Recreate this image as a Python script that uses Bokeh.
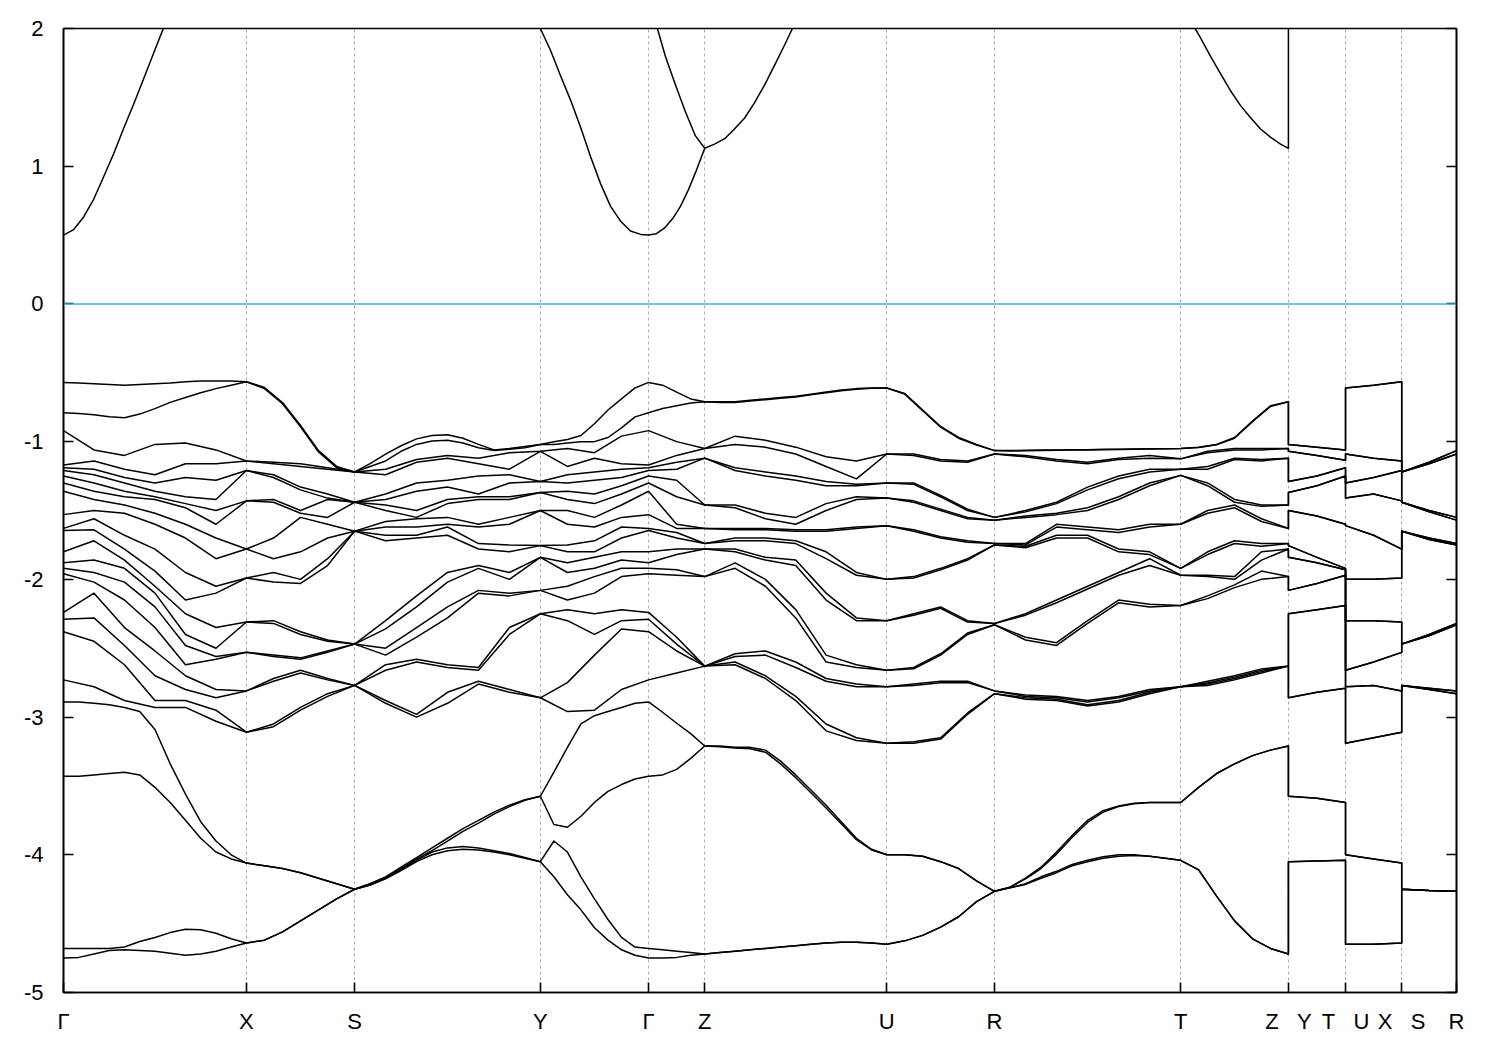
import numpy as np
from bokeh.plotting import figure
from bokeh.models import Range1d, LinearAxis, FixedTicker, Span
from bokeh.embed import file_html
from bokeh.resources import INLINE

# ---------------- data ----------------
# k-path: high-symmetry points (cumulative k distance) and their labels
k_nodes = [0.000, 0.394, 0.627, 1.027, 1.260, 1.381, 1.773, 2.005, 2.406, 2.638, 2.761, 2.882, 3.000]
k_names = ["Γ", "X", "S", "Y", "Γ", "Z", "U", "R", "T", "Z|Y", "T|U", "X|S", "R"]
y_ticks = [-5, -4, -3, -2, -1, 0, 1, 2]
y_tick_labels = ["-5", "-4", "-3", "-2", "-1", "0", "1", "2"]
fermi_level = 0.0

# ---- two highest valence bands (eV), finely sampled
T_G = [-0.57, -0.79]
T_X = [-0.565, -0.565]
T_S = [-1.22, -1.22]
T_Y = [-1.02, -1.02]
T_Z = [-0.71, -0.71]
T_U = [-0.61, -0.61]
T_R = [-1.065, -1.065]
T_T = [-1.05, -1.05]
T_T_yt = [-1.06, -1.06]
GX_top = [[-0.575, -0.795], [-0.58, -0.805], [-0.585, -0.82], [-0.59, -0.827], [-0.585, -0.80],
          [-0.58, -0.76], [-0.575, -0.715], [-0.565, -0.68], [-0.56, -0.645], [-0.56, -0.615], [-0.56, -0.59]]
XS_top = [[-0.607, -0.615], [-0.716, -0.725], [-0.883, -0.893], [-1.065, -1.075], [-1.18, -1.19]]
SY_top = [[-1.16, -1.18], [-1.09, -1.14], [-1.03, -1.07], [-0.98, -1.02], [-0.955, -0.995], [-0.95, -0.99],
          [-0.975, -1.01], [-1.02, -1.045], [-1.06, -1.065], [-1.05, -1.055], [-1.035, -1.045]]
YG_top = [[-1.00, -1.02], [-0.985, -1.01], [-0.955, -1.00], [-0.87, -1.00], [-0.77, -0.97],
          [-0.69, -0.90], [-0.61, -0.82]]
GZ_top = [[-0.59, -0.76], [-0.64, -0.74], [-0.69, -0.72]]
ZU_top = [[-0.71, -0.715], [-0.71, -0.715], [-0.70, -0.705], [-0.69, -0.695], [-0.68, -0.685], [-0.67, -0.675],
          [-0.655, -0.66], [-0.64, -0.645], [-0.625, -0.63], [-0.615, -0.62], [-0.61, -0.612]]
UR_top = [[-0.65, -0.655], [-0.77, -0.775], [-0.89, -0.895], [-0.97, -0.975], [-1.02, -1.025]]
RT_top = [[-1.065, -1.068], [-1.063, -1.066], [-1.06, -1.064], [-1.06, -1.063], [-1.058, -1.061], [-1.058, -1.06],
          [-1.056, -1.058], [-1.055, -1.057], [-1.053, -1.055], [-1.052, -1.054], [-1.051, -1.052]]
TZ_top = [[-1.04, -1.043], [-1.02, -1.023], [-0.97, -0.975], [-0.85, -0.855], [-0.74, -0.745]]
YT_top = [[-1.04, -1.04]]
UX_top = [[-0.59, -0.59]]
SR_top = [[-1.15, -1.15]]

# ---- middle valence bands (18 bands) at high-symmetry points (eV)
M_G = [-0.92, -1.17, -1.19, -1.21, -1.25, -1.30, -1.36, -1.53, -1.63, -1.645, -1.80, -1.88, -1.92, -1.96, -2.24, -2.29, -2.38, -2.73]
M_X = [-1.14, -1.14, -1.21, -1.21, -1.43, -1.43, -1.78, -1.78, -1.99, -1.99, -2.31, -2.31, -2.53, -2.53, -2.81, -2.81, -3.11, -3.11]
M_S = [-1.22, -1.22, -1.44, -1.44, -1.44, -1.44, -1.65, -1.65, -1.65, -1.65, -2.47, -2.47, -2.47, -2.47, -2.77, -2.77, -2.77, -2.77]
M_Y = [-1.07, -1.07, -1.29, -1.29, -1.37, -1.37, -1.50, -1.50, -1.755, -1.755, -1.84, -1.84, -2.08, -2.08, -2.25, -2.25, -2.86, -2.86]
M_Z = [-1.05, -1.05, -1.12, -1.12, -1.46, -1.46, -1.63, -1.63, -1.74, -1.74, -1.78, -1.78, -1.98, -1.98, -2.63, -2.63, -2.63, -2.63]
M_U = [-1.09, -1.09, -1.30, -1.30, -1.41, -1.41, -1.61, -1.61, -2.00, -2.00, -2.30, -2.30, -2.66, -2.66, -2.78, -2.78, -3.19, -3.19]
M_R = [-1.09, -1.09, -1.55, -1.55, -1.57, -1.57, -1.74, -1.74, -1.75, -1.75, -2.32, -2.32, -2.33, -2.33, -2.81, -2.81, -2.83, -2.83]
M_T = [-1.125, -1.125, -1.20, -1.20, -1.245, -1.245, -1.60, -1.60, -1.92, -1.92, -1.97, -1.97, -2.19, -2.19, -2.78, -2.78, -2.78, -2.78]
M_T_yt = [-1.135, -1.135, -1.19, -1.19, -1.25, -1.25, -1.60, -1.60, -1.92, -1.92, -1.93, -1.93, -1.97, -1.97, -2.19, -2.19, -2.79, -2.79]

GX_mid = [
    [-1.06, -1.14, -1.20, -1.24, -1.30, -1.36, -1.42, -1.50, -1.56, -1.64, -1.72, -1.86, -1.95, -2.02, -2.10, -2.28, -2.45, -2.78],
    [-1.10, -1.20, -1.26, -1.30, -1.36, -1.40, -1.46, -1.52, -1.68, -1.78, -1.86, -1.92, -2.02, -2.15, -2.35, -2.48, -2.62, -2.88],
    [-1.02, -1.24, -1.30, -1.36, -1.40, -1.42, -1.52, -1.60, -1.78, -1.94, -2.05, -2.10, -2.20, -2.35, -2.52, -2.70, -2.88, -2.93],
    [-1.01, -1.16, -1.26, -1.40, -1.45, -1.48, -1.60, -1.70, -1.95, -2.15, -2.25, -2.40, -2.48, -2.62, -2.70, -2.80, -2.88, -2.93],
    [-1.06, -1.16, -1.28, -1.42, -1.50, -1.60, -1.70, -1.85, -2.05, -2.10, -2.35, -2.50, -2.56, -2.58, -2.80, -2.86, -2.95, -3.03],
]
XS_mid = [
    [-1.15, -1.16, -1.24, -1.26, -1.42, -1.44, -1.70, -1.85, -1.95, -2.02, -2.30, -2.32, -2.55, -2.56, -2.72, -2.74, -3.05, -3.07],
    [-1.16, -1.18, -1.33, -1.35, -1.50, -1.52, -1.55, -1.80, -2.00, -2.03, -2.38, -2.40, -2.57, -2.58, -2.66, -2.68, -2.93, -2.95],
    [-1.19, -1.20, -1.38, -1.41, -1.42, -1.55, -1.60, -1.70, -1.85, -1.90, -2.44, -2.45, -2.52, -2.53, -2.72, -2.73, -2.83, -2.85],
]
SY_mid = [
    [-1.20, -1.24, -1.38, -1.42, -1.46, -1.50, -1.58, -1.62, -1.68, -1.72, -2.30, -2.36, -2.50, -2.55, -2.62, -2.66, -2.88, -2.90],
    [-1.13, -1.15, -1.30, -1.36, -1.50, -1.55, -1.56, -1.62, -1.68, -1.70, -2.12, -2.20, -2.35, -2.42, -2.58, -2.60, -2.98, -3.00],
    [-1.10, -1.12, -1.28, -1.33, -1.42, -1.45, -1.55, -1.60, -1.62, -1.68, -1.95, -2.02, -2.20, -2.28, -2.62, -2.64, -2.82, -2.90],
    [-1.12, -1.16, -1.25, -1.38, -1.40, -1.42, -1.60, -1.62, -1.74, -1.78, -1.90, -1.92, -2.08, -2.10, -2.64, -2.66, -2.74, -2.76],
    [-1.08, -1.20, -1.24, -1.30, -1.40, -1.42, -1.55, -1.60, -1.75, -1.80, -1.95, -2.00, -2.10, -2.12, -2.35, -2.40, -2.80, -2.82],
]
YG_mid = [
    [-1.05, -1.18, -1.24, -1.30, -1.36, -1.42, -1.50, -1.60, -1.75, -1.80, -1.88, -1.95, -2.05, -2.15, -2.22, -2.30, -2.75, -2.96],
    [-1.08, -1.12, -1.22, -1.28, -1.38, -1.45, -1.55, -1.62, -1.72, -1.80, -1.84, -1.92, -1.98, -2.10, -2.25, -2.40, -2.55, -2.95],
    [-0.96, -1.16, -1.20, -1.26, -1.32, -1.38, -1.46, -1.55, -1.62, -1.70, -1.80, -1.86, -1.92, -1.98, -2.22, -2.30, -2.36, -2.80],
]
GZ_mid = [
    [-1.00, -1.10, -1.15, -1.20, -1.28, -1.40, -1.60, -1.63, -1.66, -1.70, -1.78, -1.82, -1.93, -1.97, -2.42, -2.47, -2.52, -2.68],
]
ZU_mid = [
    [-0.96, -1.02, -1.19, -1.21, -1.46, -1.48, -1.63, -1.64, -1.70, -1.72, -1.78, -1.80, -1.88, -1.92, -2.54, -2.56, -2.60, -2.62],
    [-0.99, -1.04, -1.22, -1.25, -1.52, -1.56, -1.63, -1.64, -1.70, -1.72, -1.84, -1.86, -2.00, -2.05, -2.52, -2.55, -2.70, -2.72],
    [-1.04, -1.09, -1.25, -1.28, -1.55, -1.60, -1.64, -1.65, -1.72, -1.74, -1.86, -1.90, -2.22, -2.28, -2.60, -2.64, -2.85, -2.88],
    [-1.11, -1.18, -1.29, -1.32, -1.45, -1.50, -1.64, -1.65, -1.80, -1.85, -2.10, -2.15, -2.55, -2.60, -2.72, -2.74, -3.05, -3.10],
    [-1.14, -1.27, -1.31, -1.32, -1.40, -1.42, -1.62, -1.63, -1.95, -1.97, -2.28, -2.30, -2.62, -2.64, -2.76, -2.78, -3.15, -3.17],
]
UR_mid = [
    [-1.09, -1.10, -1.30, -1.31, -1.43, -1.44, -1.64, -1.65, -1.98, -1.99, -2.25, -2.26, -2.64, -2.65, -2.76, -2.77, -3.18, -3.19],
    [-1.13, -1.14, -1.39, -1.40, -1.49, -1.50, -1.69, -1.70, -1.92, -1.93, -2.20, -2.21, -2.54, -2.55, -2.74, -2.75, -3.15, -3.16],
    [-1.14, -1.15, -1.49, -1.50, -1.55, -1.56, -1.72, -1.73, -1.85, -1.86, -2.30, -2.31, -2.39, -2.40, -2.74, -2.75, -2.97, -2.98],
]
RT_mid = [
    [-1.10, -1.11, -1.50, -1.51, -1.54, -1.55, -1.74, -1.75, -1.76, -1.77, -2.25, -2.26, -2.42, -2.44, -2.84, -2.85, -2.86, -2.87],
    [-1.13, -1.14, -1.44, -1.45, -1.52, -1.53, -1.60, -1.62, -1.68, -1.70, -2.15, -2.17, -2.46, -2.48, -2.85, -2.86, -2.87, -2.88],
    [-1.15, -1.16, -1.33, -1.35, -1.48, -1.50, -1.62, -1.64, -1.68, -1.70, -2.05, -2.07, -2.30, -2.32, -2.88, -2.89, -2.91, -2.92],
    [-1.12, -1.13, -1.25, -1.27, -1.40, -1.42, -1.64, -1.66, -1.78, -1.80, -1.95, -1.97, -2.15, -2.17, -2.85, -2.86, -2.88, -2.89],
    [-1.10, -1.12, -1.20, -1.22, -1.30, -1.32, -1.60, -1.62, -1.80, -1.82, -1.85, -1.90, -2.18, -2.20, -2.80, -2.81, -2.82, -2.83],
]
TZ_mid = [
    [-1.07, -1.08, -1.18, -1.20, -1.30, -1.32, -1.50, -1.52, -1.80, -1.82, -1.97, -1.98, -2.12, -2.14, -2.74, -2.75, -2.76, -2.77],
    [-1.05, -1.06, -1.12, -1.13, -1.42, -1.44, -1.46, -1.48, -1.72, -1.74, -1.98, -2.00, -2.04, -2.06, -2.70, -2.71, -2.72, -2.73],
    [-1.05, -1.06, -1.13, -1.14, -1.46, -1.47, -1.56, -1.58, -1.74, -1.76, -1.80, -1.86, -1.94, -2.00, -2.65, -2.66, -2.67, -2.68],
]
YT_mid = [[-1.10, -1.10, -1.25, -1.25, -1.32, -1.32, -1.54, -1.54, -1.84, -1.84, -1.88, -1.88, -2.03, -2.03, -2.22, -2.22, -2.82, -2.82]]
UX_mid = [[-1.12, -1.12, -1.26, -1.26, -1.38, -1.38, -1.68, -1.68, -2.00, -2.00, -2.30, -2.30, -2.60, -2.60, -2.77, -2.77, -3.15, -3.15]]
SR_mid = [[-1.16, -1.16, -1.50, -1.50, -1.51, -1.51, -1.70, -1.70, -1.71, -1.71, -2.40, -2.40, -2.41, -2.41, -2.79, -2.79, -2.80, -2.80]]

# ---- lowest four valence bands (eV), finely sampled
L_G = [-2.89, -3.43, -4.68, -4.75]
L_X = [-4.06, -4.06, -4.64, -4.64]
L_S = [-4.25, -4.25, -4.25, -4.25]
L_Y = [-3.575, -3.575, -4.05, -4.05]
L_Z = [-3.21, -3.21, -4.72, -4.72]
L_U = [-4.00, -4.00, -4.65, -4.65]
L_R = [-4.265, -4.265, -4.265, -4.265]
L_T = [-3.62, -3.62, -4.04, -4.04]
GX_low = [[-2.89, -3.43, -4.68, -4.745], [-2.90, -3.42, -4.68, -4.72], [-2.91, -3.41, -4.68, -4.695],
          [-2.93, -3.40, -4.67, -4.69], [-2.96, -3.42, -4.63, -4.695], [-3.09, -3.51, -4.60, -4.70],
          [-3.34, -3.62, -4.565, -4.715], [-3.56, -3.75, -4.54, -4.73], [-3.76, -3.88, -4.545, -4.72],
          [-3.90, -3.98, -4.57, -4.70], [-4.00, -4.03, -4.61, -4.67]]
XS_low = [[-4.08, -4.08, -4.62, -4.62], [-4.10, -4.10, -4.56, -4.56], [-4.13, -4.13, -4.48, -4.48],
          [-4.17, -4.17, -4.40, -4.40], [-4.21, -4.21, -4.32, -4.32]]
SY_low = [[-4.21, -4.21, -4.22, -4.22], [-4.16, -4.165, -4.17, -4.175], [-4.09, -4.105, -4.10, -4.115],
          [-4.02, -4.04, -4.03, -4.05], [-3.95, -3.97, -3.98, -4.00], [-3.88, -3.90, -3.95, -3.97],
          [-3.81, -3.83, -3.94, -3.96], [-3.75, -3.77, -3.95, -3.965], [-3.69, -3.705, -3.97, -3.98],
          [-3.64, -3.65, -3.99, -4.00], [-3.60, -3.605, -4.02, -4.025]]
YG_low = [[-3.40, -3.78, -3.90, -4.16], [-3.22, -3.80, -3.98, -4.29], [-3.05, -3.72, -4.16, -4.40],
          [-2.99, -3.62, -4.32, -4.53], [-2.96, -3.54, -4.47, -4.62], [-2.93, -3.49, -4.60, -4.69],
          [-2.90, -3.45, -4.67, -4.73]]
GZ_low = [[-2.965, -3.42, -4.69, -4.75], [-3.045, -3.38, -4.70, -4.745], [-3.12, -3.30, -4.71, -4.73]]
ZU_low = [[-3.21, -3.215, -4.71, -4.71], [-3.22, -3.225, -4.70, -4.70], [-3.22, -3.23, -4.69, -4.69],
          [-3.24, -3.255, -4.68, -4.68], [-3.32, -3.34, -4.67, -4.67], [-3.42, -3.44, -4.66, -4.66],
          [-3.53, -3.55, -4.65, -4.65], [-3.64, -3.66, -4.64, -4.64], [-3.76, -3.775, -4.635, -4.635],
          [-3.88, -3.89, -4.635, -4.635], [-3.96, -3.965, -4.64, -4.64]]
UR_low = [[-4.00, -4.00, -4.625, -4.625], [-4.01, -4.01, -4.585, -4.585], [-4.05, -4.05, -4.525, -4.525],
          [-4.10, -4.10, -4.45, -4.45], [-4.19, -4.19, -4.34, -4.34]]
RT_low = [[-4.235, -4.235, -4.24, -4.24], [-4.17, -4.175, -4.21, -4.215], [-4.09, -4.10, -4.16, -4.17],
          [-3.98, -3.995, -4.12, -4.13], [-3.86, -3.875, -4.07, -4.08], [-3.75, -3.765, -4.04, -4.05],
          [-3.68, -3.69, -4.015, -4.025], [-3.645, -3.65, -4.00, -4.01], [-3.625, -3.63, -4.00, -4.005],
          [-3.62, -3.62, -4.01, -4.01], [-3.62, -3.62, -4.025, -4.025]]
TZ_low = [[-3.51, -3.51, -4.11, -4.11], [-3.41, -3.41, -4.30, -4.30], [-3.34, -3.34, -4.48, -4.48],
          [-3.28, -3.28, -4.61, -4.61], [-3.24, -3.24, -4.68, -4.68]]
YT_low = [[-3.59, -3.59, -4.045, -4.045]]
UX_low = [[-4.03, -4.03, -4.65, -4.65]]
SR_low = [[-4.26, -4.26, -4.26, -4.26]]

# ---- conduction bands: (k, E) samples of the visible pieces
cb1a_k = [0.000, 0.022, 0.043, 0.065, 0.086, 0.108, 0.129, 0.151, 0.172, 0.194, 0.215, 0.237]
cb1a_E = [0.50, 0.54, 0.63, 0.76, 0.92, 1.09, 1.27, 1.45, 1.63, 1.82, 2.00, 2.18]
cb1b_k = [1.006, 1.027, 1.049, 1.070, 1.092, 1.114, 1.135, 1.157, 1.178, 1.200, 1.221, 1.243,
          1.260, 1.277, 1.294, 1.312, 1.329, 1.346, 1.363, 1.381, 1.402, 1.424, 1.445, 1.467,
          1.488, 1.510, 1.531, 1.553, 1.574, 1.596]
cb1b_E = [2.15, 2.00, 1.84, 1.66, 1.48, 1.28, 1.07, 0.87, 0.71, 0.60, 0.53, 0.505,
          0.50, 0.51, 0.55, 0.62, 0.71, 0.83, 0.97, 1.13, 1.16, 1.20, 1.27, 1.35,
          1.46, 1.59, 1.73, 1.88, 2.03, 2.18]
cb2_k = [1.260, 1.279, 1.296, 1.318, 1.340, 1.361, 1.381]
cb2_E = [2.17, 2.00, 1.80, 1.59, 1.39, 1.22, 1.13]
cb1c_k = [2.406, 2.427, 2.449, 2.470, 2.492, 2.513, 2.535, 2.557, 2.578, 2.600, 2.621, 2.638, 2.638]
cb1c_E = [2.25, 2.06, 1.93, 1.80, 1.67, 1.55, 1.44, 1.35, 1.27, 1.21, 1.16, 1.13, 2.20]

# path segments of each band group: (start node index, start E, inner columns, end E)
band_groups = [
    [(0, T_G, GX_top, T_X), (1, T_X, XS_top, T_S), (2, T_S, SY_top, T_Y), (3, T_Y, YG_top, T_G),
     (4, T_G, GZ_top, T_Z), (5, T_Z, ZU_top, T_U), (6, T_U, UR_top, T_R), (7, T_R, RT_top, T_T),
     (8, T_T, TZ_top, T_Z), (9, T_Y, YT_top, T_T_yt), (10, T_U, UX_top, T_X), (11, T_S, SR_top, T_R)],
    [(0, M_G, GX_mid, M_X), (1, M_X, XS_mid, M_S), (2, M_S, SY_mid, M_Y), (3, M_Y, YG_mid, M_G),
     (4, M_G, GZ_mid, M_Z), (5, M_Z, ZU_mid, M_U), (6, M_U, UR_mid, M_R), (7, M_R, RT_mid, M_T),
     (8, M_T, TZ_mid, M_Z), (9, M_Y, YT_mid, M_T_yt), (10, M_U, UX_mid, M_X), (11, M_S, SR_mid, M_R)],
    [(0, L_G, GX_low, L_X), (1, L_X, XS_low, L_S), (2, L_S, SY_low, L_Y), (3, L_Y, YG_low, L_G),
     (4, L_G, GZ_low, L_Z), (5, L_Z, ZU_low, L_U), (6, L_U, UR_low, L_R), (7, L_R, RT_low, L_T),
     (8, L_T, TZ_low, L_Z), (9, L_Y, YT_low, L_T), (10, L_U, UX_low, L_X), (11, L_S, SR_low, L_R)],
]


def build(segs):
    ks, cols = [], []
    for i, ea, inner_cols, eb in segs:
        ka, kb = k_nodes[i], k_nodes[i + 1]
        inner = list(np.linspace(ka, kb, len(inner_cols) + 2)[1:-1])
        ks += [ka] + inner + [kb]
        cols += [ea] + inner_cols + [eb]
    arr = -np.sort(-np.array(cols, dtype=float), axis=1)
    return ks, arr


xs, ys = [], []
for segs in band_groups:
    ks, arr = build(segs)
    for j in range(arr.shape[1]):
        xs.append(ks)
        ys.append(list(arr[:, j]))
for kk, ee in ((cb1a_k, cb1a_E), (cb1b_k, cb1b_E), (cb2_k, cb2_E), (cb1c_k, cb1c_E)):
    xs.append(kk)
    ys.append(ee)

# ---------------- figure ----------------
p = figure(frame_width=1393, frame_height=964,
           x_range=Range1d(k_nodes[0], k_nodes[-1]), y_range=Range1d(-5, 2),
           output_backend="svg", toolbar_location=None,
           min_border_left=63, min_border_top=28, min_border_right=40, min_border_bottom=54)
p.background_fill_color = "white"
p.border_fill_color = "white"
p.outline_line_color = "black"
p.outline_line_width = 1.6

# grid: dashed vertical lines at high-symmetry points only
p.ygrid.grid_line_color = None
p.xgrid.ticker = FixedTicker(ticks=k_nodes[1:-1])
p.xgrid.grid_line_color = "#a8a8a8"
p.xgrid.grid_line_dash = "3 3"
p.xgrid.grid_line_width = 1

# fermi level
p.add_layout(Span(location=fermi_level, dimension="width", line_color="#4aa8e0", line_width=1.5))

# bands
p.multi_line(xs, ys, line_color="black", line_width=1.5, line_join="round")

# y axis (left)
yax = p.yaxis[0]
yax.ticker = FixedTicker(ticks=y_ticks, minor_ticks=[])
yax.major_label_overrides = {t: s for t, s in zip(y_ticks, y_tick_labels)}
yax.major_tick_in = 10
yax.major_tick_out = 0
yax.minor_tick_in = 0
yax.minor_tick_out = 0
yax.axis_line_width = 1.6
yax.major_tick_line_width = 1.6
yax.major_label_standoff = 20
yax.major_label_text_font = "Liberation Sans"
yax.major_label_text_font_size = "22px"
yax.major_label_text_color = "black"

# right axis (ticks only)
rax = LinearAxis(ticker=FixedTicker(ticks=y_ticks, minor_ticks=[]))
rax.major_label_overrides = {t: "" for t in y_ticks}
rax.major_tick_in = 10
rax.major_tick_out = 0
rax.minor_tick_in = 0
rax.minor_tick_out = 0
rax.axis_line_width = 1.6
rax.major_tick_line_width = 1.6
rax.major_label_text_font_size = "8px"
p.add_layout(rax, "right")

# x axis: ticks at high-symmetry points, labelled with point names
nb = "\u00a0\u00a0\u00a0"
xax = p.xaxis[0]
xax.ticker = FixedTicker(ticks=k_nodes, minor_ticks=[])
xax.major_label_overrides = {k: n.replace("|", nb) for k, n in zip(k_nodes, k_names)}
xax.major_label_text_font = "Liberation Sans"
xax.major_label_text_font_size = "22px"
xax.major_label_text_color = "black"
xax.major_label_standoff = 16
xax.major_tick_in = 10
xax.major_tick_out = 0
xax.minor_tick_in = 0
xax.minor_tick_out = 0
xax.axis_line_width = 1.6
xax.major_tick_line_width = 1.6

open("out.html", "w").write(file_html(p, INLINE))
